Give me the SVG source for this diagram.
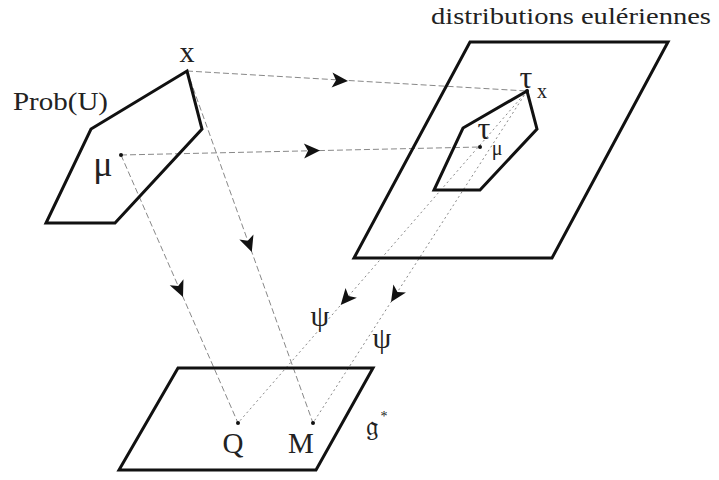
<svg xmlns="http://www.w3.org/2000/svg" xmlns:xlink="http://www.w3.org/1999/xlink" width="719" height="480" viewBox="0 0 719 480">
<style>
.shape{fill:none;stroke:#111;stroke-width:3;stroke-linejoin:miter}
.dash{fill:none;stroke:#888;stroke-width:1;stroke-dasharray:6 3}
.dot{fill:none;stroke:#888;stroke-width:1;stroke-dasharray:2 3}
.arr{fill:#111}
.pt{fill:#111}
text{font-family:"Liberation Serif","DejaVu Serif",serif;fill:#222}
</style>
<defs>
<path id="ah" d="M0,0 L-16,-7.5 L-12,0 L-16,7.5 Z"/>
</defs>
<rect width="719" height="480" fill="#fff"/>
<g id="connectors">
<line class="dash" x1="187" y1="71" x2="527" y2="91"/>
<line class="dash" x1="121" y1="155" x2="480" y2="147"/>
<line class="dash" x1="121" y1="155" x2="238" y2="423"/>
<line class="dash" x1="187" y1="71" x2="313" y2="423"/>
<line class="dot" x1="527" y1="91" x2="238" y2="423"/>
<line class="dot" x1="527" y1="91" x2="313" y2="423"/>
<use class="arr" xlink:href="#ah" transform="translate(348,81) rotate(3.37)"/>
<use class="arr" xlink:href="#ah" transform="translate(320,150.6) rotate(-1.28)"/>
<use class="arr" xlink:href="#ah" transform="translate(183,297) rotate(66.4)"/>
<use class="arr" xlink:href="#ah" transform="translate(251.8,252) rotate(70.3)"/>
<use class="arr" xlink:href="#ah" transform="translate(340.7,305) rotate(131)"/>
<use class="arr" xlink:href="#ah" transform="translate(391,302) rotate(122.8)"/>
<text x="320" y="326" font-size="30" text-anchor="middle">ψ</text>
<text x="382" y="348" font-size="30" text-anchor="middle">ψ</text>
</g>
<g id="probU">
<polygon class="shape" points="187,71 202,129 115,223 46,223 91,129"/>
<circle class="pt" cx="121" cy="155" r="2"/>
<text x="13" y="110" font-size="25" textLength="95" lengthAdjust="spacingAndGlyphs">Prob(U)</text>
<text x="187" y="62" font-size="30" text-anchor="middle">x</text>
<text x="103" y="176" font-size="36" text-anchor="middle">μ</text>
</g>
<g id="eulerian">
<polygon class="shape" points="470,42 668,42 552,258 354,258"/>
<text x="431" y="24" font-size="23" textLength="280" lengthAdjust="spacingAndGlyphs">distributions eulériennes</text>
</g>
<g id="tau">
<polygon class="shape" points="527,91 537,129 480,190 434,190 463,128"/>
<circle class="pt" cx="527" cy="91" r="2"/>
<circle class="pt" cx="480" cy="147" r="2"/>
<text x="526" y="88" font-size="32" text-anchor="middle">τ</text>
<text x="542" y="98" font-size="20" text-anchor="middle">x</text>
<text x="484" y="139" font-size="32" text-anchor="middle">τ</text>
<text x="497" y="155" font-size="20" text-anchor="middle">μ</text>
</g>
<g id="gstar">
<polygon class="shape" points="178,368 373,368 316,470 119,470"/>
<circle class="pt" cx="238" cy="423" r="2"/>
<circle class="pt" cx="313" cy="423" r="2"/>
<text x="233" y="453" font-size="29" text-anchor="middle">Q</text>
<text x="301" y="453" font-size="29" text-anchor="middle">M</text>
<text x="372" y="436" font-size="28" text-anchor="middle">𝔤</text>
<text x="384" y="421" font-size="14" text-anchor="middle">*</text>
</g>
</svg>
